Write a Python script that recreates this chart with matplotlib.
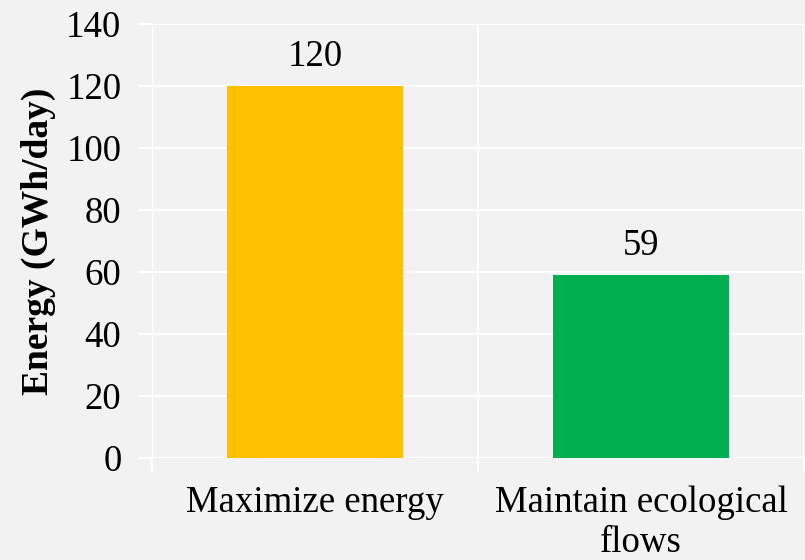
import numpy as np
import matplotlib.pyplot as plt

plt.rcParams['font.family'] = ['Liberation Serif', 'DejaVu Serif']

# 两种调度方案的日发电量
scenarios = ['Maximize energy', 'Maintain ecological\nflows']
energy = [120, 59]
colors = ['#FFC000', '#00B050']

bg = '#F2F2F2'
fig = plt.figure(figsize=(8.05, 5.6), dpi=100, facecolor=bg)
ax = fig.add_axes([0.1888, 0.182, 0.810, 0.775], facecolor=bg)

x = np.arange(len(scenarios))
bars = ax.bar(x, energy, width=0.54, color=colors, zorder=3)

for xi, v in zip(x, energy):
    ax.text(xi, v + 4, f'{v}', ha='center', va='bottom', fontsize=26.5, color='black')

ax.set_xlim(-0.5, len(scenarios) - 0.5)
ax.set_ylim(0, 140)
ax.set_yticks(np.arange(0, 141, 20))
ax.set_xticks(x)
ax.set_xticklabels(scenarios, fontsize=26.5, linespacing=1.2)
ax.set_xticks(np.arange(-0.5, len(scenarios), 1.0), minor=True)
ax.tick_params(axis='y', labelsize=26.5, color='white', width=1.5, length=10, pad=12)
ax.tick_params(axis='x', which='major', length=0, pad=20)
ax.tick_params(axis='x', which='minor', color='white', width=1.5, length=10)

# 白色网格线
ax.grid(axis='y', color='white', linewidth=1.5, zorder=0)
ax.grid(axis='x', which='minor', color='white', linewidth=1.5, zorder=0)
for s in ax.spines.values():
    s.set_visible(False)

ax.set_ylabel('Energy (GWh/day)', fontsize=27, fontweight='bold', labelpad=7)

fig.savefig('out.png', dpi=100, facecolor=bg)
